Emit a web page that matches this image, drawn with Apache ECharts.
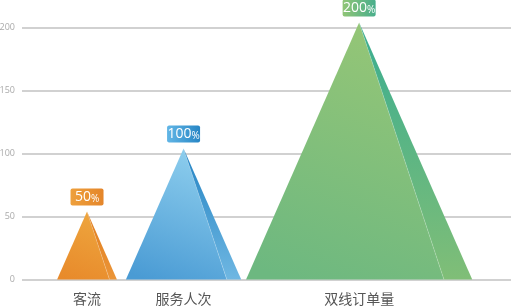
<!DOCTYPE html>
<html>
<head>
<meta charset="utf-8">
<script src="https://cdn.jsdelivr.net/npm/echarts@6/dist/echarts.min.js"></script>
<style>
  html, body { margin: 0; padding: 0; background: #fff; }
  #chart { width: 511px; height: 306px; }
</style>
</head>
<body>
<div id="chart"></div>
<script>
// Chart data
const categories = ['客流', '服务人次', '双线订单量'];
const values = [50, 100, 200];
const yTicks = [0, 50, 100, 150, 200];

// Colour sets per pyramid: front face (top, bottom), side face (top, bottom), tag (left, right)
const palettes = [
  { front: ['#eea63e', '#e88a2b'], side: ['#e07c1c', '#eb9538'], tag: ['#eea03c', '#e4852a'] },
  { front: ['#8fcfee', '#4a9bd4'], side: ['#2383c3', '#6fb7e2'], tag: ['#62b6e6', '#2786c5'] },
  { front: ['#96c676', '#6db880'], side: ['#39ad90', '#80be77'], tag: ['#90c576', '#48ae8c'] }
];

// Horizontal layout in axis units: pyramids sit side by side, each footprint sized by its value
const LEAD = 36.7, GAP = 16.6, X_MAX = 464;
const centers = [];
let cursor = LEAD;
values.forEach(function (v) {
  centers.push(cursor + v / 2);
  cursor += v + GAP;
});

const APEX_LIFT = 5;      // apex sits slightly above its value line
const ASPECT = 0.88;      // base width relative to pyramid height
const SIDE_SPLIT = 0.875; // where the shaded side face begins along the base

function grad(x1, y1, x2, y2, c0, c1) {
  return new echarts.graphic.LinearGradient(x1, y1, x2, y2, [
    { offset: 0, color: c0 }, { offset: 1, color: c1 }
  ]);
}

function renderPyramid(params, api) {
  const i = api.value(2);
  const v = api.value(1);
  const pal = palettes[i];
  const top = api.coord([api.value(0), v]);
  const base = api.coord([api.value(0), 0]);
  const apexY = top[1] - APEX_LIFT;
  const h = base[1] - apexY;
  const w = h * ASPECT;
  const cx = base[0];
  const left = cx - w / 2;
  const right = cx + w / 2;
  const split = left + w * SIDE_SPLIT;
  const by = base[1];

  const tagW = 33, tagH = 17, tagGap = 6;
  const tagY = apexY - tagGap - tagH;

  return {
    type: 'group',
    children: [
      {
        type: 'polygon',
        shape: { points: [[cx, apexY], [left, by], [split, by]] },
        style: { fill: grad(0.7, 0, 0.2, 1, pal.front[0], pal.front[1]) }
      },
      {
        type: 'polygon',
        shape: { points: [[cx, apexY], [split, by], [right, by]] },
        style: { fill: grad(0, 0, 0, 1, pal.side[0], pal.side[1]) }
      },
      {
        type: 'line',
        shape: { x1: cx, y1: apexY, x2: split, y2: by },
        style: { stroke: 'rgba(255,255,255,0.22)', lineWidth: 0.8 }
      },
      {
        type: 'rect',
        shape: { x: cx - tagW / 2, y: tagY, width: tagW, height: tagH, r: 2 },
        style: { fill: grad(0, 0, 1, 0, pal.tag[0], pal.tag[1]) }
      },
      {
        type: 'text',
        style: {
          x: cx,
          y: tagY + tagH / 2 + 0.5,
          text: '{n|' + v + '}{p|%}',
          align: 'center',
          verticalAlign: 'middle',
          fill: '#fff',
          rich: {
            n: { fontSize: 14, fontFamily: 'Open Sans', color: '#fff' },
            p: { fontSize: 10, fontFamily: 'Open Sans', color: '#fff', padding: [3, 0, 0, 0] }
          }
        }
      }
    ]
  };
}

const chart = echarts.init(document.getElementById('chart'), null, { renderer: 'canvas' });

chart.setOption({
  animation: false,
  backgroundColor: '#fff',
  grid: { left: 22, right: 0, top: 27.5, bottom: 26.5, containLabel: false, outerBoundsMode: 'none' },
  xAxis: {
    type: 'value',
    min: 0,
    max: X_MAX,
    splitLine: { show: false },
    axisLine: { show: false },
    axisTick: { show: false },
    axisLabel: {
      customValues: centers,
      margin: 12,
      color: '#555',
      fontSize: 14,
      fontFamily: 'Noto Sans CJK SC',
      formatter: function (val) {
        let best = 0;
        centers.forEach(function (c, k) {
          if (Math.abs(c - val) < Math.abs(centers[best] - val)) best = k;
        });
        return categories[best];
      }
    }
  },
  yAxis: {
    type: 'value',
    min: yTicks[0],
    max: yTicks[yTicks.length - 1],
    interval: yTicks[1] - yTicks[0],
    axisLine: { show: false },
    axisTick: { show: false },
    axisLabel: { color: '#aaa', fontSize: 9, margin: 7, fontFamily: 'Open Sans' },
    splitLine: { lineStyle: { color: '#c2c2c2', width: 1.5 } }
  },
  series: [{
    type: 'custom',
    clip: false,
    renderItem: renderPyramid,
    data: values.map(function (v, i) { return [centers[i], v, i]; }),
    encode: { x: 0, y: 1 }
  }]
});
</script>
</body>
</html>
